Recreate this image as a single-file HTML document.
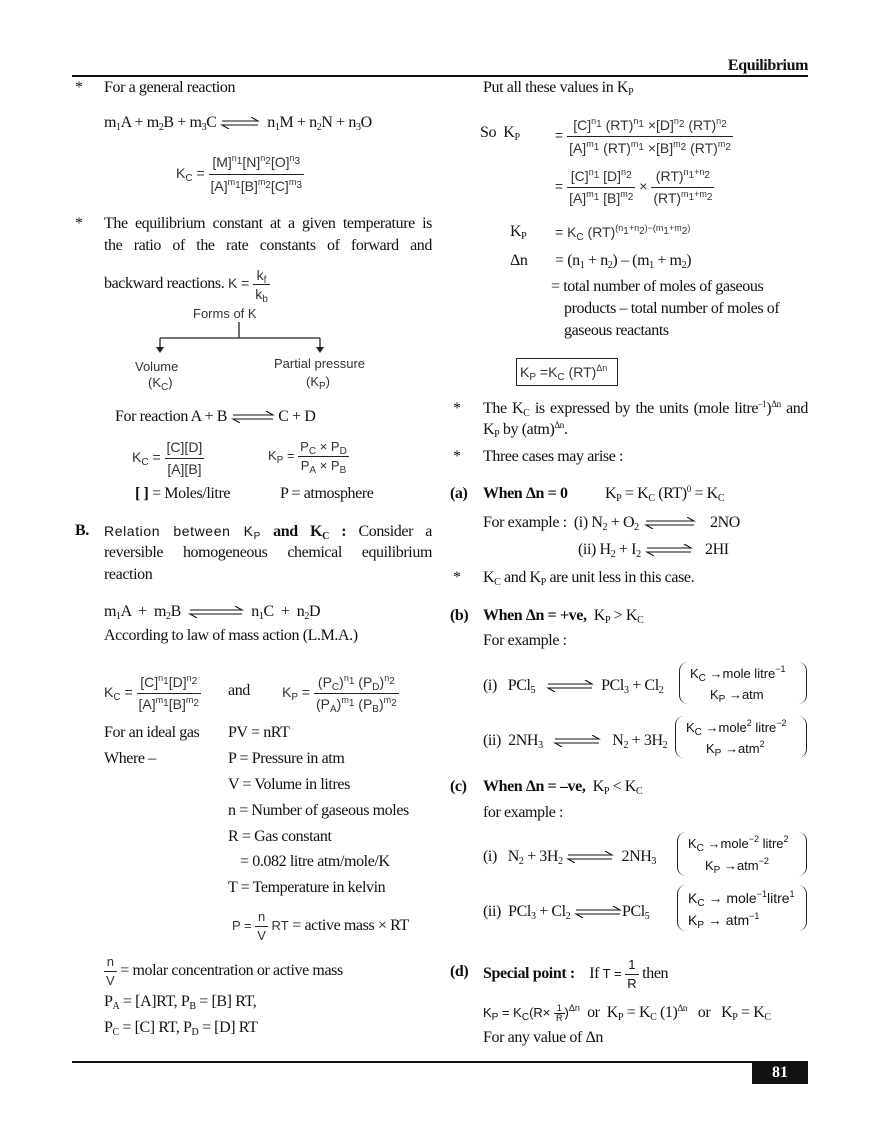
<!DOCTYPE html>
<html><head><meta charset="utf-8"><style>
body{margin:0;background:#fff;}
#p{position:relative;width:880px;height:1139px;overflow:hidden;font-family:"Liberation Serif",serif;color:#111;}
.t{position:absolute;white-space:nowrap;font-size:16px;line-height:20px;letter-spacing:-0.4px;}
.s{font-family:"Liberation Sans",sans-serif;font-size:13px;letter-spacing:0;color:#333;}
.j{text-align:justify;text-align-last:justify;white-space:normal;}
sub{font-size:10px;vertical-align:-3px;line-height:0;}
sup{font-size:9px;vertical-align:6px;line-height:0;}
.fr{display:inline-block;vertical-align:middle;text-align:center;line-height:18px;}
.fr>span{display:block;padding:0 2px;}
.fr>span:first-child{border-bottom:1px solid #222;}
.ar{display:inline-block;vertical-align:middle;}
.br{position:absolute;border-left:1.3px solid #222;border-right:1.3px solid #222;border-radius:9px;}
.bx{position:absolute;border:1px solid #222;}
</style></head><body><div id="p">
<div class="t" style="right:72px;top:56px;font-weight:bold;font-size:16px">Equilibrium</div>
<div style="position:absolute;left:72px;top:75px;width:736px;height:2px;background:#111"></div>

<!-- LEFT -->
<div class="t" style="left:75px;top:78px">*</div>
<div class="t" style="left:104px;top:78px">For a general reaction</div>
<div class="t" style="left:104px;top:113px">m<sub>1</sub>A + m<sub>2</sub>B + m<sub>3</sub>C <svg class="ar" width="40" height="12"><path d="M2 4H38L31 0M38 8H2L9 12" fill="none" stroke="#111" stroke-width="1.1"/></svg> &nbsp;n<sub>1</sub>M + n<sub>2</sub>N + n<sub>3</sub>O</div>
<div class="t s" style="left:176px;top:151px;font-size:14px">K<sub>C</sub> = <span class="fr" style="line-height:23px"><span>[M]<sup>n<sub>1</sub></sup>[N]<sup>n<sub>2</sub></sup>[O]<sup>n<sub>3</sub></sup></span><span>[A]<sup>m<sub>1</sub></sup>[B]<sup>m<sub>2</sub></sup>[C]<sup>m<sub>3</sub></sup></span></span></div>
<div class="t" style="left:75px;top:214px">*</div>
<div class="t j" style="left:104px;top:214px;width:328px">The equilibrium constant at a given temperature is</div>
<div class="t j" style="left:104px;top:236px;width:328px">the ratio of the rate constants of forward and</div>
<div class="t" style="left:104px;top:266px">backward reactions. <span class="s" style="font-size:14px">K = <span class="fr"><span>k<sub>f</sub></span><span>k<sub>b</sub></span></span></span></div>
<div class="t s" style="left:193px;top:304px">Forms of K</div>
<svg style="position:absolute;left:150px;top:322px" width="180" height="32"><path d="M89 0V16M10 16H170M10 16V26M170 16V26" fill="none" stroke="#222" stroke-width="1.3"/><path d="M6 25H14L10 31Z M166 25H174L170 31Z" fill="#222"/></svg>
<div class="t s" style="left:135px;top:357px">Volume</div>
<div class="t s" style="left:148px;top:373px">(K<sub>C</sub>)</div>
<div class="t s" style="left:274px;top:354px">Partial pressure</div>
<div class="t s" style="left:306px;top:372px">(K<sub>P</sub>)</div>
<div class="t" style="left:115px;top:407px">For reaction A + B <svg class="ar" width="44" height="12"><path d="M2 4H42L35 0M42 8H2L9 12" fill="none" stroke="#111" stroke-width="1.1"/></svg> C + D</div>
<div class="t s" style="left:132px;top:437px;font-size:14px">K<sub>C</sub> = <span class="fr" style="line-height:21px"><span>[C][D]</span><span>[A][B]</span></span></div>
<div class="t s" style="left:268px;top:438px;font-size:13px">K<sub>P</sub> = <span class="fr"><span>P<sub>C</sub> × P<sub>D</sub></span><span>P<sub>A</sub> × P<sub>B</sub></span></span></div>
<div class="t" style="left:135px;top:484px"><b>[ ]</b> = Moles/litre</div>
<div class="t" style="left:280px;top:484px">P = atmosphere</div>
<div class="t" style="left:75px;top:521px;font-weight:bold">B.</div>
<div class="t j" style="left:104px;top:521px;width:328px"><span class="s" style="font-size:14px;letter-spacing:0.6px;color:#111">Relation between K<sub>P</sub></span> <b>and K<sub>C</sub> :</b> Consider a</div>
<div class="t j" style="left:104px;top:543px;width:328px">reversible homogeneous chemical equilibrium</div>
<div class="t" style="left:104px;top:565px">reaction</div>
<div class="t" style="left:104px;top:602px">m<sub>1</sub>A &nbsp;+ &nbsp;m<sub>2</sub>B &nbsp;<svg class="ar" width="56" height="12"><path d="M2 4H54L47 0M54 8H2L9 12" fill="none" stroke="#111" stroke-width="1.1"/></svg> &nbsp;n<sub>1</sub>C &nbsp;+ &nbsp;n<sub>2</sub>D</div>
<div class="t" style="left:104px;top:626px">According to law of mass action (L.M.A.)</div>
<div class="t s" style="left:104px;top:672px;font-size:14px">K<sub>C</sub> = <span class="fr" style="line-height:21px"><span>[C]<sup>n<sub>1</sub></sup>[D]<sup>n<sub>2</sub></sup></span><span>[A]<sup>m<sub>1</sub></sup>[B]<sup>m<sub>2</sub></sup></span></span></div>
<div class="t" style="left:228px;top:681px">and</div>
<div class="t s" style="left:282px;top:672px;font-size:14px">K<sub>P</sub> = <span class="fr" style="line-height:21px"><span>(P<sub>C</sub>)<sup>n<sub>1</sub></sup> (P<sub>D</sub>)<sup>n<sub>2</sub></sup></span><span>(P<sub>A</sub>)<sup>m<sub>1</sub></sup> (P<sub>B</sub>)<sup>m<sub>2</sub></sup></span></span></div>
<div class="t" style="left:104px;top:723px">For an ideal gas</div>
<div class="t" style="left:228px;top:723px">PV = nRT</div>
<div class="t" style="left:104px;top:749px">Where –</div>
<div class="t" style="left:228px;top:749px">P = Pressure in atm</div>
<div class="t" style="left:228px;top:775px">V = Volume in litres</div>
<div class="t" style="left:228px;top:801px">n = Number of gaseous moles</div>
<div class="t" style="left:228px;top:827px">R = Gas constant</div>
<div class="t" style="left:240px;top:852px">= 0.082 litre atm/mole/K</div>
<div class="t" style="left:228px;top:878px">T = Temperature in kelvin</div>
<div class="t" style="left:232px;top:908px"><span class="s" style="font-size:13px">P = <span class="fr"><span>n</span><span>V</span></span> RT</span> = active mass × RT</div>
<div class="t" style="left:104px;top:953px"><span class="s" style="font-size:13px"><span class="fr"><span>n</span><span>V</span></span></span> = molar concentration or active mass</div>
<div class="t" style="left:104px;top:992px">P<sub>A</sub> = [A]RT, P<sub>B</sub> = [B] RT,</div>
<div class="t" style="left:104px;top:1018px">P<sub>C</sub> = [C] RT, P<sub>D</sub> = [D] RT</div>

<!-- RIGHT -->
<div class="t" style="left:483px;top:78px">Put all these values in K<sub>P</sub></div>
<div class="t" style="left:480px;top:123px">So &nbsp;K<sub>P</sub></div>
<div class="t s" style="left:555px;top:114px;font-size:14px">= <span class="fr" style="line-height:22px"><span>[C]<sup>n<sub>1</sub></sup> (RT)<sup>n<sub>1</sub></sup> ×[D]<sup>n<sub>2</sub></sup> (RT)<sup>n<sub>2</sub></sup></span><span>[A]<sup>m<sub>1</sub></sup> (RT)<sup>m<sub>1</sub></sup> ×[B]<sup>m<sub>2</sub></sup> (RT)<sup>m<sub>2</sub></sup></span></span></div>
<div class="t s" style="left:555px;top:166px;font-size:14px">= <span class="fr" style="line-height:21px"><span>[C]<sup>n<sub>1</sub></sup> [D]<sup>n<sub>2</sub></sup></span><span>[A]<sup>m<sub>1</sub></sup> [B]<sup>m<sub>2</sub></sup></span></span> × <span class="fr" style="line-height:21px"><span>(RT)<sup>n<sub>1</sub>+n<sub>2</sub></sup></span><span>(RT)<sup>m<sub>1</sub>+m<sub>2</sub></sup></span></span></div>
<div class="t" style="left:510px;top:222px">K<sub>P</sub></div>
<div class="t s" style="left:555px;top:222px;font-size:14px">= K<sub>C</sub> (RT)<sup style="font-size:9px">(n<sub>1</sub>+n<sub>2</sub>)−(m<sub>1</sub>+m<sub>2</sub>)</sup></div>
<div class="t" style="left:510px;top:251px">Δn</div>
<div class="t" style="left:555px;top:251px">= (n<sub>1</sub> + n<sub>2</sub>) – (m<sub>1</sub> + m<sub>2</sub>)</div>
<div class="t" style="left:551px;top:277px">= total number of moles of gaseous</div>
<div class="t" style="left:564px;top:299px">products – total number of moles of</div>
<div class="t" style="left:564px;top:321px">gaseous reactants</div>
<div class="bx" style="left:516px;top:358px;width:100px;height:26px"></div>
<div class="t s" style="left:520px;top:362px;font-size:14px">K<sub>P</sub> =K<sub>C</sub> (RT)<sup>Δn</sup></div>
<div class="t" style="left:453px;top:399px">*</div>
<div class="t j" style="left:483px;top:399px;width:325px">The K<sub>C</sub> is expressed by the units (mole litre<sup>–1</sup>)<sup>Δn</sup> and</div>
<div class="t" style="left:483px;top:420px">K<sub>P</sub> by (atm)<sup>Δn</sup>.</div>
<div class="t" style="left:453px;top:447px">*</div>
<div class="t" style="left:483px;top:447px">Three cases may arise :</div>
<div class="t" style="left:450px;top:484px;font-weight:bold">(a)</div>
<div class="t" style="left:483px;top:484px"><b>When Δn = 0</b></div>
<div class="t" style="left:605px;top:484px">K<sub>P</sub> = K<sub>C</sub> (RT)<sup>0</sup> = K<sub>C</sub></div>
<div class="t" style="left:483px;top:513px">For example : &nbsp;(i) N<sub>2</sub> + O<sub>2</sub></div>
<svg style="position:absolute;left:644px;top:517px" width="52" height="12"><path d="M2 4H50L43 0M50 8H2L9 12" fill="none" stroke="#111" stroke-width="1.1"/></svg>
<div class="t" style="left:710px;top:513px">2NO</div>
<div class="t" style="left:578px;top:540px">(ii) H<sub>2</sub> + I<sub>2</sub></div>
<svg style="position:absolute;left:645px;top:544px" width="48" height="12"><path d="M2 4H46L39 0M46 8H2L9 12" fill="none" stroke="#111" stroke-width="1.1"/></svg>
<div class="t" style="left:705px;top:540px">2HI</div>
<div class="t" style="left:453px;top:568px">*</div>
<div class="t" style="left:483px;top:568px">K<sub>C</sub> and K<sub>P</sub> are unit less in this case.</div>
<div class="t" style="left:450px;top:606px;font-weight:bold">(b)</div>
<div class="t" style="left:483px;top:606px"><b>When Δn = +ve,</b>&nbsp; K<sub>P</sub> &gt; K<sub>C</sub></div>
<div class="t" style="left:483px;top:631px">For example :</div>
<div class="t" style="left:483px;top:676px">(i) &nbsp;&nbsp;PCl<sub>5</sub> &nbsp;&nbsp;<svg class="ar" width="48" height="12"><path d="M2 4H46L39 0M46 8H2L9 12" fill="none" stroke="#111" stroke-width="1.1"/></svg> &nbsp;PCl<sub>3</sub> + Cl<sub>2</sub></div>
<div class="br" style="left:679px;top:662px;width:126px;height:42px"></div>
<div class="t s" style="left:690px;top:664px;font-size:13px;color:#111">K<sub>C</sub> →mole litre<sup>−1</sup></div>
<div class="t s" style="left:710px;top:685px;font-size:13px;color:#111">K<sub>P</sub> →atm</div>
<div class="t" style="left:483px;top:731px">(ii) &nbsp;2NH<sub>3</sub> &nbsp;&nbsp;<svg class="ar" width="48" height="12"><path d="M2 4H46L39 0M46 8H2L9 12" fill="none" stroke="#111" stroke-width="1.1"/></svg> &nbsp;&nbsp;N<sub>2</sub> + 3H<sub>2</sub></div>
<div class="br" style="left:675px;top:716px;width:130px;height:42px"></div>
<div class="t s" style="left:686px;top:718px;font-size:13px;color:#111">K<sub>C</sub> →mole<sup>2</sup> litre<sup>−2</sup></div>
<div class="t s" style="left:706px;top:739px;font-size:13px;color:#111">K<sub>P</sub> →atm<sup>2</sup></div>
<div class="t" style="left:450px;top:777px;font-weight:bold">(c)</div>
<div class="t" style="left:483px;top:777px"><b>When Δn = –ve,</b>&nbsp; K<sub>P</sub> &lt; K<sub>C</sub></div>
<div class="t" style="left:483px;top:803px">for example :</div>
<div class="t" style="left:483px;top:847px">(i) &nbsp;&nbsp;N<sub>2</sub> + 3H<sub>2</sub> <svg class="ar" width="48" height="12"><path d="M2 4H46L39 0M46 8H2L9 12" fill="none" stroke="#111" stroke-width="1.1"/></svg> &nbsp;2NH<sub>3</sub></div>
<div class="br" style="left:677px;top:832px;width:128px;height:44px"></div>
<div class="t s" style="left:688px;top:834px;font-size:13px;color:#111">K<sub>C</sub> →mole<sup>−2</sup> litre<sup>2</sup></div>
<div class="t s" style="left:705px;top:856px;font-size:13px;color:#111">K<sub>P</sub> →atm<sup>−2</sup></div>
<div class="t" style="left:483px;top:902px">(ii) &nbsp;PCl<sub>3</sub> + Cl<sub>2</sub> <svg class="ar" width="48" height="12"><path d="M2 4H46L39 0M46 8H2L9 12" fill="none" stroke="#111" stroke-width="1.1"/></svg>PCl<sub>5</sub></div>
<div class="br" style="left:677px;top:885px;width:128px;height:46px"></div>
<div class="t s" style="left:688px;top:888px;font-size:14px;color:#111">K<sub>C</sub> → mole<sup>−1</sup>litre<sup>1</sup></div>
<div class="t s" style="left:688px;top:910px;font-size:14px;color:#111">K<sub>P</sub> → atm<sup>−1</sup></div>
<div class="t" style="left:450px;top:962px;font-weight:bold">(d)</div>
<div class="t" style="left:483px;top:956px"><b>Special point :</b> &nbsp;&nbsp;&nbsp;If <span class="s" style="font-size:13px;color:#111">T = <span class="fr"><span>1</span><span>R</span></span></span> then</div>
<div class="t" style="left:483px;top:1003px"><span class="s" style="font-size:13px;color:#111">K<sub>P</sub> = K<sub>C</sub>(R× <span class="fr" style="font-size:9px;line-height:9px"><span>1</span><span>R</span></span>)<sup>Δn</sup></span> &nbsp;or &nbsp;K<sub>P</sub> = K<sub>C</sub> (1)<sup>Δn</sup> &nbsp;&nbsp;or &nbsp;&nbsp;K<sub>P</sub> = K<sub>C</sub></div>
<div class="t" style="left:483px;top:1028px">For any value of Δn</div>

<div style="position:absolute;left:72px;top:1061px;width:736px;height:2px;background:#111"></div>
<div style="position:absolute;left:752px;top:1062px;width:56px;height:22px;background:#111;color:#fff;font-weight:bold;font-size:16px;line-height:22px;text-align:center">81</div>
</div></body></html>
